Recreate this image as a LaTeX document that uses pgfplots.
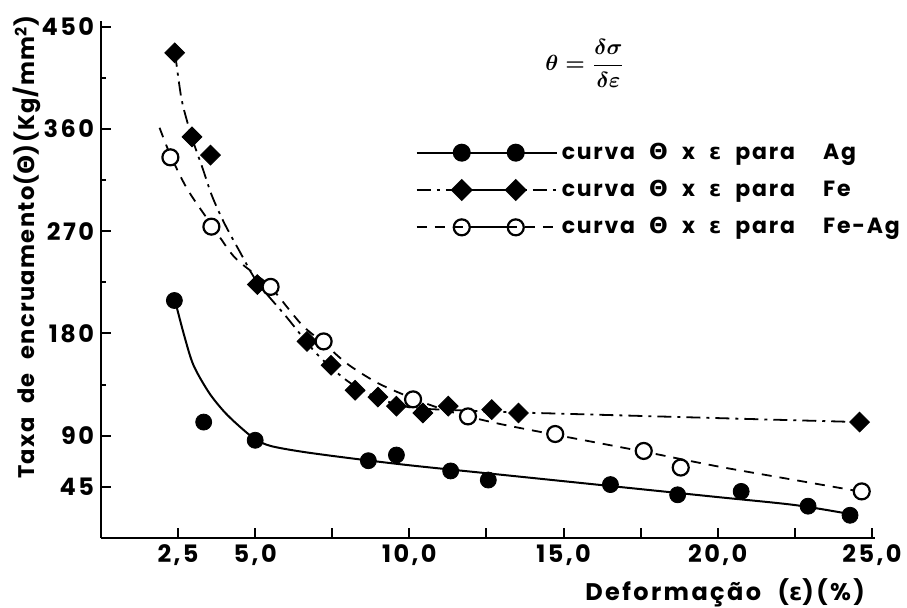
\documentclass[border=0pt]{standalone}
\usepackage{fontspec}
\usepackage{pgfplots}
\pgfplotsset{compat=1.18}
\setmainfont{Poppins}
\newfontfamily\lab{Poppins}[LetterSpace=10,WordSpace=2.2]
\newfontfamily\leg{Poppins}[LetterSpace=8,WordSpace=2.2]
\newfontfamily\ylab{Poppins}[LetterSpace=6,WordSpace=2.2]
\newfontfamily\gk{DejaVu Sans}

\begin{document}
\begin{tikzpicture}
\begin{axis}[
    name=ax,
    scale only axis,
    width=387pt, height=258.5pt,
    xmin=0, xmax=25.1, ymin=0, ymax=455,
    axis lines=left,
    axis line style={line width=1.4pt, -},
    clip=false,
    xtick={2.5,5,7.5,10,12.5,15,17.5,20,22.5,25},
    xticklabels={{2,5},{5,0},{},{10,0},{},{15,0},{},{20,0},{},{25,0}},
    ytick={45,90,180,270,360,450},
    yticklabels={45,90,180,270,360,450},
    minor ytick={135,225,315,405},
    tick align=inside,
    major tick length=5pt, minor tick length=2.5pt,
    tick style={black, line width=1pt},
    ticklabel style={font=\lab\bfseries\fontsize{12}{12}\selectfont},
    legend style={draw=none, fill=none, at={(axis cs:10.0,355)}, anchor=north west,
        font=\leg\bfseries\fontsize{11}{11}\selectfont, row sep=5pt},
    legend cell align=left,
    legend image code/.code={
        \draw[#1, mark=none] (0pt,0pt) -- (62pt,0pt);
        \path[#1, solid] plot coordinates {(22.5pt,0pt) (49.5pt,0pt)};
        \path (0pt,0pt) -- (70pt,0pt);
    },
]
% fitted curves
\addplot[forget plot, black, line width=1pt, smooth] coordinates {
 (2.4,209) (2.7,178) (3.0,152) (3.5,128) (4.0,111) (4.5,98) (5.0,87) (5.5,81)
 (6.5,76) (8,70.5) (10,64) (12.5,57) (15,50) (17.5,43) (20,36) (22.5,29) (24.3,21)};
\addplot[forget plot, black, line width=0.9pt, smooth, dash pattern=on 7pt off 3pt on 1.5pt off 3pt] coordinates {
 (2.4,427) (2.6,388) (2.8,366) (3.0,348) (3.3,325) (3.6,301) (4.0,277) (4.5,252)
 (5.07,225) (6.0,195) (7.0,162) (8,138) (9,123) (10,115) (11,113) (12,112) (13.5,110.5) (24.6,102)};
\addplot[forget plot, black, line width=0.9pt, smooth, dash pattern=on 5pt off 4pt] coordinates {
 (1.9,361) (2.25,337) (2.8,307) (3.6,275) (4.3,248) (5.0,232) (5.5,221) (6.5,188)
 (7.2,172) (8,153) (9,136) (10.1,123) (11,114) (11.9,107) (13,100) (14.7,91)
 (17.6,76) (20,63) (22.5,51) (24.6,41)};
% measured points
\addplot[forget plot, only marks, mark=*, mark size=4pt, black] coordinates {
 (2.38,209) (3.33,102) (5.0,86) (8.67,68) (9.58,73) (11.34,59) (12.56,51)
 (16.52,47) (18.7,38) (20.76,41) (22.93,28) (24.29,20)};
\addplot[forget plot, only marks, mark=square*, mark size=3.5pt, mark options={rotate=45}, black] coordinates {
 (2.39,427) (2.95,353) (3.55,337) (5.07,223) (6.68,173) (7.46,152) (8.24,130)
 (8.98,124) (9.58,116) (10.44,110) (11.26,116) (12.67,113) (13.54,110) (24.6,102)};
\addplot[forget plot, only marks, mark=*, mark size=4pt, mark options={fill=white, draw=black, line width=1.1pt}] coordinates {
 (2.25,335) (3.58,274) (5.5,221) (7.22,173) (10.12,122) (11.9,107) (14.73,91.5)
 (17.6,76.6) (18.8,62) (24.67,41)};
% legend
\addlegendimage{black, line width=1pt, mark=*, mark size=4pt}
\addlegendentry{curva {\gk Θ} x {\gk ε} para\ \ Ag}
\addlegendimage{black, line width=0.9pt, dash pattern=on 7pt off 3pt on 1.5pt off 3pt, mark=square*, mark size=3.5pt, mark options={rotate=45, solid}}
\addlegendentry{curva {\gk Θ} x {\gk ε} para\ \ Fe}
\addlegendimage{black, line width=0.9pt, dash pattern=on 5pt off 4pt, mark=*, mark size=4pt, mark options={fill=white, draw=black, line width=1.1pt, solid}}
\addlegendentry{curva {\gk Θ} x {\gk ε} para\ \ Fe-Ag}
% labels
\node[rotate=90, font=\ylab\bfseries\fontsize{11.3}{11.3}\selectfont]
  at ([xshift=-37pt]axis cs:0,256) {Taxa de encruamento({\gk Θ})(Kg/mm\textsuperscript{2})};
\node[anchor=east, font=\lab\bfseries\fontsize{12}{12}\selectfont]
  at ([yshift=-27.5pt]axis cs:25,0) {Deformação ({\gk ε})(\%)};
\node[font=\boldmath\fontsize{11}{12}\selectfont] at (axis cs:15.7,418)
  {$\theta=\displaystyle\frac{\delta\sigma}{\delta\varepsilon}$};
\end{axis}
\pgfresetboundingbox
\path ([shift={(-50.5pt,-35pt)}]ax.south west) rectangle ([shift={(16pt,10.5pt)}]ax.north east);
\end{tikzpicture}
\end{document}
